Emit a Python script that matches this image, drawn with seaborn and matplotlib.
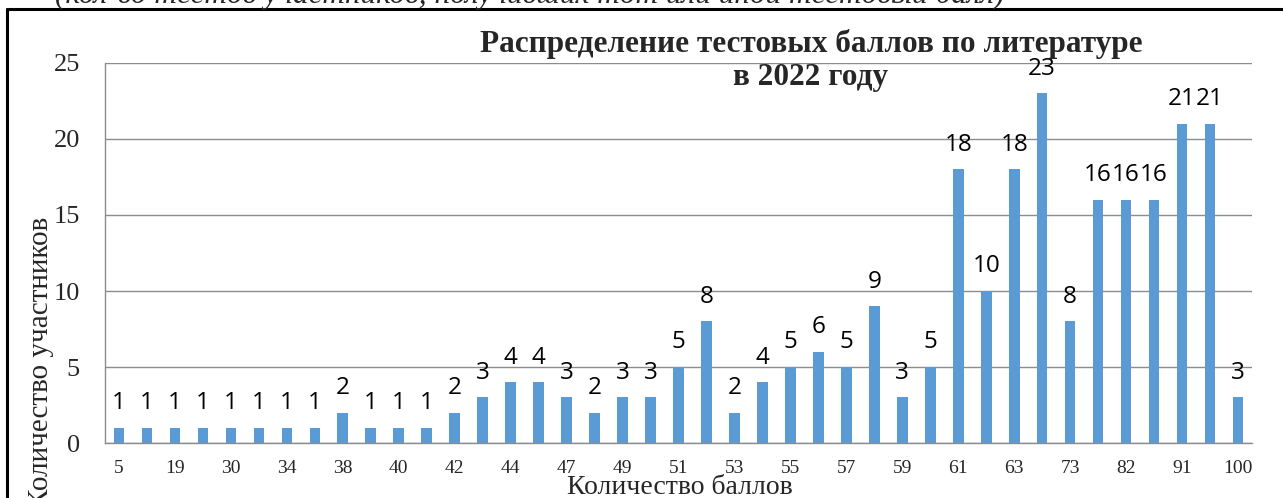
import matplotlib
matplotlib.use("Agg")
import matplotlib.pyplot as plt
import seaborn as sns
import pandas as pd
from matplotlib.lines import Line2D

scores = ["5", "12", "19", "25", "30", "32", "34", "36", "38", "39", "40", "41",
          "42", "43", "44", "45", "47", "48", "49", "50", "51", "52", "53", "54",
          "55", "56", "57", "58", "59", "60", "61", "62", "63", "66", "73", "78",
          "82", "87", "91", "96", "100"]
counts = [1, 1, 1, 1, 1, 1, 1, 1, 2, 1, 1, 1,
          2, 3, 4, 4, 3, 2, 3, 3, 5, 8, 2, 4,
          5, 6, 5, 9, 3, 5, 18, 10, 18, 23, 8, 16,
          16, 16, 21, 21, 3]
yticks = [0, 5, 10, 15, 20, 25]

title_line1 = "Распределение тестовых баллов по литературе"
title_line2 = "в 2022 году"
xlabel = "Количество баллов"
ylabel = "Количество участников"
top_note = "(кол-во тестов участников, получивших тот или иной тестовый балл)"

df = pd.DataFrame({"score": scores, "count": counts})

sns.set_theme(style="white")
serif = ["Liberation Serif", "DejaVu Serif"]
sans = ["Open Sans", "DejaVu Sans"]

W, H = 1283, 498
fig = plt.figure(figsize=(W / 100, H / 100), dpi=100)
ax = fig.add_axes([105 / W, 1 - 443 / H, (1252 - 105) / W, (443 - 63) / H])

sns.barplot(data=df, x="score", y="count", order=scores, color="#5B9BD5",
            width=0.38, saturation=1, ax=ax, edgecolor="none")

ax.set_ylim(0, 25)
ax.set_yticks(yticks)
ax.yaxis.grid(True, color="#8C8C8C", linewidth=1.0)
ax.set_axisbelow(True)
for s in ["top", "right"]:
    ax.spines[s].set_visible(False)
for s in ["left", "bottom"]:
    ax.spines[s].set_color("#8C8C8C")
    ax.spines[s].set_linewidth(1.0)

ax.set_xticks(range(0, len(scores), 2))
ax.set_xticklabels(scores[::2], fontfamily=serif, fontsize=14)
ax.set_yticklabels([str(v) for v in yticks], fontfamily=serif, fontsize=19)
ax.tick_params(axis="x", length=0, pad=12)
ax.tick_params(axis="y", length=0, pad=18)
ax.set_xlabel("")
ax.set_ylabel("")

for c in ax.containers:
    ax.bar_label(c, labels=[str(v) for v in counts], padding=9,
                 fontfamily=sans, fontsize=17.5, color="black")

fig.text(811 / W, 1 - 52 / H, title_line1, ha="center", va="baseline",
         fontfamily=serif, fontsize=22.5, fontweight="bold")
fig.text(811 / W, 1 - 85 / H, title_line2, ha="center", va="baseline",
         fontfamily=serif, fontsize=22.5, fontweight="bold")
fig.text(680 / W, 1 - 487 / H, xlabel, ha="center", va="center",
         fontfamily=serif, fontsize=20)
fig.text(41 / W, 1 - 362 / H, ylabel, ha="center", va="center", rotation=90,
         fontfamily=serif, fontsize=21)
fig.text(55 / W, 1 - 3 / H, top_note, ha="left", va="baseline",
         fontfamily=serif, fontsize=22.5, style="italic")

# frame
fig.add_artist(Line2D([7 / W, 7 / W], [0, 1 - 9 / H], color="black",
                      linewidth=2.2, transform=fig.transFigure))
fig.add_artist(Line2D([7 / W, 1], [1 - 9 / H, 1 - 9 / H], color="black",
                      linewidth=2.2, transform=fig.transFigure))

fig.savefig("out.png", dpi=100)
